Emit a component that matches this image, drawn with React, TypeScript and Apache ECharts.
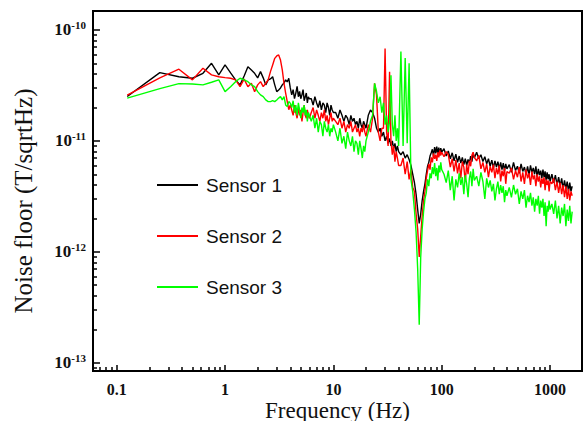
import { useEffect, useRef } from 'react';
import * as echarts from 'echarts';

// Frequency bins (Hz)
const FREQ_HZ = [
  0.125, 0.25, 0.375, 0.5, 0.625, 0.75, 0.875, 1, 1.125, 1.25, 1.375, 1.5, 1.625, 1.75, 1.875, 2,
  2.125, 2.25, 2.375, 2.5, 2.625, 2.75, 2.875, 3, 3.125, 3.25, 3.375, 3.5, 3.625, 3.75, 3.875, 4,
  4.125, 4.25, 4.375, 4.5, 4.625, 4.75, 4.875, 5, 5.125, 5.25, 5.375, 5.5, 5.625, 5.75, 5.875, 6,
  6.25, 6.5, 6.75, 7, 7.25, 7.5, 7.75, 8, 8.25, 8.5, 8.75, 9, 9.25, 9.5, 9.75, 10,
  10.5, 11, 11.5, 12, 12.5, 13, 13.5, 14, 14.5, 15, 15.5, 16, 16.5, 17, 17.5, 18, 18.5, 19, 19.5, 20,
  21, 22, 23, 24, 25, 26, 27, 28, 29, 30, 31, 32, 33, 34, 35, 36, 37, 38, 39, 40,
  42, 44, 46, 48, 50, 52, 54, 56, 58, 60, 62, 64, 66, 68, 70, 72, 74, 76, 78, 80, 82, 84, 86, 88, 90, 92, 94, 96, 98, 100,
  105, 110, 115, 120, 125, 130, 135, 140, 145, 150, 155, 160, 165, 170, 175, 180, 185, 190, 195, 200,
  210, 220, 230, 240, 250, 260, 270, 280, 290, 300, 310, 320, 330, 340, 350, 360, 370, 380, 390, 400,
  420, 440, 460, 480, 500, 520, 540, 560, 580, 600, 620, 640, 660, 680, 700, 720, 740, 760, 780, 800,
  820, 840, 860, 880, 900, 920, 940, 960, 980, 1000,
  1040, 1080, 1120, 1160, 1200, 1240, 1280, 1320, 1360, 1400, 1440, 1480, 1520, 1560, 1600,
];

// Noise floor values in pT/sqrtHz (1e-12 T/sqrtHz)
const SENSOR_1 = [
  25.1, 41.2, 37.9, 36.7, 40.7, 50.1, 39.4, 48.4, 41.0, 35.5, 32.0, 38.5, 46.7, 43.6, 40.7, 37.0,
  42.1, 37.0, 32.0, 35.5, 36.2, 37.9, 32.0, 27.8, 28.8, 30.0, 32.0, 33.3, 35.5, 34.0, 36.7, 30.0,
  26, 29, 24, 27, 31, 25, 28, 24, 26, 29, 23, 25, 27, 22, 25, 24,
  24, 21, 25, 22, 20, 23, 19, 22, 21, 18, 22, 20, 17, 21, 19, 18,
  18, 16, 19, 17, 15, 17, 16, 14, 17, 15, 16, 14, 15, 13, 16, 14, 13, 15, 14, 13,
  17, 19, 18, 16, 13, 12, 13, 11, 12, 10, 11, 9.5, 10.5, 9, 10, 8.5, 9.5, 8, 9, 8,
  7.5, 8, 7, 7.5, 6.8, 6.0, 5.0, 4.2, 3.3, 2.4, 1.8, 2.2, 2.9, 3.5, 4.1, 5.0, 5.9, 6.4, 7.3, 7.8,
  8.4, 7.3, 8.8, 7.7, 8.9, 7.6, 8.7, 7.4, 8.6, 7.9,
  8.5, 7.3, 8.1, 6.9, 7.8, 6.6, 7.6, 6.4, 7.3, 6.3, 7.1, 6.1, 6.9, 6.0, 6.8, 6.3, 7.3, 6.5, 7.8, 7.0,
  7.9, 6.9, 7.5, 6.5, 7.2, 6.2, 6.9, 5.9, 6.7, 5.7, 6.6, 5.8, 6.5, 5.6, 6.4, 5.5, 6.3, 5.4, 6.2, 5.6,
  6.1, 5.2, 6.4, 5.4, 5.9, 5.1, 6.2, 5.3, 5.8, 5.0, 5.9, 4.9, 6.0, 5.2, 5.7, 5.0, 5.9, 4.7, 5.6, 4.9,
  5.4, 4.6, 5.5, 4.7, 5.3, 4.4, 5.2, 4.5, 5.0, 4.3,
  5.0, 4.2, 4.9, 4.0, 4.7, 3.9, 4.6, 3.7, 4.4, 3.7, 4.3, 3.5, 4.2, 3.5, 3.9,
];

const SENSOR_2 = [
  25.9, 37.0, 44.3, 35.5, 45.2, 39.4, 37.9, 37.2, 36.7, 35.5, 30.8, 36.0, 30.8, 33.1, 27.8, 32.0,
  34.2, 30.8, 33.1, 35.5, 42.1, 48.4, 55.5, 58.3, 59.6, 53.6, 43.6, 33.1, 26.9, 22.6, 19.1, 21.1,
  19, 17, 21, 18, 16, 20, 17, 19, 15, 18, 21, 17, 16, 19, 17, 16,
  18, 20, 16, 19, 17, 15, 18, 16, 19, 15, 17, 14, 16, 18, 15, 16,
  15, 14, 16, 13, 15, 12, 14, 13, 15, 12, 13, 14, 12, 13, 11, 13, 12, 14, 12, 11,
  14, 12, 16, 33, 26, 12, 10, 13, 13, 68, 12, 9, 42, 10, 7.5, 9, 6.5, 8, 7, 6,
  6, 7, 5, 6.5, 4.5, 5.5, 3.8, 3.5, 2.2, 1.6, 0.9, 1.4, 2.1, 2.9, 3.5, 4.6, 5.4, 6.2, 5.5, 7.1,
  6.4, 7.7, 6.9, 7.5, 6.6, 7.9, 7.1, 8.2, 7.4, 7.9,
  7.2, 8.0, 7.5, 5.8, 6.9, 5.3, 6.7, 5.1, 6.3, 4.6, 6.5, 5.8, 4.3, 6.1, 5.0, 6.6, 5.9, 7.4, 7.9, 7.1,
  6.6, 7.4, 5.6, 6.4, 5.2, 6.2, 4.7, 5.9, 5.2, 6.1, 4.6, 5.7, 5.0, 6.0, 4.3, 5.4, 4.8, 5.7, 4.1, 5.3,
  5.1, 5.7, 4.5, 5.4, 4.7, 5.8, 4.3, 5.2, 4.1, 5.5, 4.6, 5.1, 4.0, 5.3, 4.5, 4.9, 3.9, 5.0, 4.3, 4.8,
  3.8, 4.6, 4.1, 4.7, 3.6, 4.5, 4.0, 4.4, 3.5, 4.3,
  4.1, 4.6, 3.6, 4.3, 3.4, 4.2, 3.3, 4.0, 3.1, 3.9, 3.0, 3.7, 2.9, 3.5, 3.2,
];

const SENSOR_3 = [
  24.3, 29.6, 32.8, 32.6, 32.0, 33.8, 35.5, 27.8, 30.8, 34.2, 36.7, 35.5, 34.2, 32.0, 30.8, 27.8,
  26.0, 25.1, 23.4, 22.6, 22.6, 23.1, 22.6, 23.4, 24.3, 25.1, 23.4, 25.1, 21.1, 20.4, 22.6, 21.9,
  20, 23, 18, 21, 17, 22, 19, 16, 20, 18, 21, 17, 19, 15, 18, 17,
  15, 17, 13, 16, 12, 15, 14, 11, 15, 13, 12, 14, 11, 13, 12, 14,
  12, 10, 13, 9.5, 11, 8.5, 12, 10, 9, 11, 8, 10, 9.5, 7.5, 10, 8.5, 7, 9, 8, 10,
  12, 15, 17, 33, 28, 22, 25, 18, 22, 14, 17, 12, 15, 39, 14, 11, 17, 10, 13, 9,
  64, 9, 56, 9.5, 50, 4.5, 3.5, 2.4, 1.5, 0.7, 0.22, 0.9, 1.6, 2.3, 3.0, 3.4, 4.5, 3.9, 5.1, 4.6,
  5.8, 5.0, 6.3, 4.8, 5.7, 4.4, 6.0, 5.2, 6.4, 5.5,
  5.0, 4.2, 5.4, 3.6, 4.8, 2.9, 4.5, 3.8, 5.1, 4.0, 4.7, 3.3, 4.9, 4.1, 3.1, 4.6, 5.3, 3.9, 5.6, 4.4,
  4.8, 3.9, 5.2, 4.3, 3.0, 4.6, 3.8, 4.4, 3.5, 4.1, 2.9, 3.7, 4.3, 3.3, 4.0, 3.4, 3.9, 2.8, 3.6, 3.2,
  3.8, 3.1, 4.0, 3.3, 3.7, 2.7, 3.5, 3.0, 3.6, 2.5, 3.2, 2.8, 3.4, 2.6, 3.1, 2.3, 3.0, 2.6, 3.2, 2.2,
  2.9, 2.5, 3.0, 2.1, 2.8, 1.7, 2.6, 2.3, 2.9, 2.4,
  2.7, 2.2, 2.9, 2.0, 2.6, 1.8, 2.5, 2.1, 2.7, 1.7, 2.4, 1.9, 2.6, 1.8, 2.3,
];

const VALUE_UNIT = 1e-12; // values above are in pT/sqrtHz
const SERIES_NAMES = ['Sensor 1', 'Sensor 2', 'Sensor 3'];
const SERIES_COLORS = ['#000000', '#ff0000', '#00ff00'];
const X_TICK_VALUES = [0.1, 1, 10, 100, 1000];
const X_TICK_LABELS = ['0.1', '1', '10', '100', '1000'];
const Y_TICK_EXPONENTS = [-13, -12, -11, -10];
const X_LIMITS = [0.0604, 1972];
const Y_LIMITS = [8.41e-14, 1.483e-10];

export default function App() {
  const ref = useRef<HTMLDivElement>(null);

  useEffect(() => {
    if (!ref.current) return;
    const chart = echarts.init(ref.current, null, { renderer: 'svg' });
    const lg = (v: number) => Math.log10(v);
    const xMin = lg(X_LIMITS[0]);
    const xMax = lg(X_LIMITS[1]);
    const yMin = lg(Y_LIMITS[0]);
    const yMax = lg(Y_LIMITS[1]);

    const minorTicks = (lo: number, hi: number) => {
      const out: number[] = [];
      for (let d = Math.floor(lo); d <= Math.ceil(hi); d++) {
        for (let k = 2; k <= 9; k++) {
          const v = d + Math.log10(k);
          if (v > lo && v < hi) out.push(v);
        }
      }
      return out;
    };

    const xMajor = X_TICK_VALUES.map(lg);
    const serif = 'Liberation Serif';
    const seriesData = [SENSOR_1, SENSOR_2, SENSOR_3];

    chart.setOption({
      animation: false,
      grid: {
        left: 93,
        right: 2,
        top: 11,
        bottom: 50,
        show: true,
        borderColor: '#000',
        borderWidth: 2,
        outerBoundsMode: 'none',
      },
      legend: {
        orient: 'vertical',
        left: 152,
        top: 170,
        itemWidth: 41,
        itemHeight: 2,
        itemGap: 31,
        icon: 'rect',
        data: SERIES_NAMES,
        textStyle: {
          fontFamily: 'Liberation Sans',
          fontSize: 19,
          color: '#111',
          lineHeight: 20,
          padding: [0, 0, 0, 3],
        },
      },
      xAxis: [
        {
          type: 'value',
          min: xMin,
          max: xMax,
          position: 'bottom',
          name: 'Frequency (Hz)',
          nameLocation: 'middle',
          nameGap: 28,
          nameMoveOverlap: false,
          nameTextStyle: { fontFamily: serif, fontSize: 23, color: '#111', lineHeight: 22 },
          axisLine: { show: true, onZero: false, lineStyle: { color: '#000', width: 2 } },
          axisTick: {
            show: true,
            inside: true,
            length: 6,
            customValues: xMajor,
            lineStyle: { color: '#000', width: 1.5 },
          },
          axisLabel: {
            customValues: xMajor,
            margin: 11,
            fontFamily: serif,
            fontWeight: 'bold',
            fontSize: 16,
            lineHeight: 14,
            color: '#111',
            formatter: (v: number) => {
              const i = xMajor.findIndex((t) => Math.abs(t - v) < 1e-6);
              return i >= 0 ? X_TICK_LABELS[i] : '';
            },
          },
          splitLine: { show: false },
        },
        {
          type: 'value',
          min: xMin,
          max: xMax,
          position: 'bottom',
          axisLine: { show: false, onZero: false },
          axisTick: {
            show: true,
            inside: true,
            length: 4,
            customValues: minorTicks(xMin, xMax),
            lineStyle: { color: '#000', width: 1.5 },
          },
          axisLabel: { show: false },
          splitLine: { show: false },
        },
      ],
      yAxis: [
        {
          type: 'value',
          min: yMin,
          max: yMax,
          position: 'left',
          name: 'Noise floor (T/sqrtHz)',
          nameLocation: 'middle',
          nameGap: 57,
          nameMoveOverlap: false,
          nameTextStyle: {
            fontFamily: serif,
            fontSize: 25,
            color: '#111',
            padding: [0, 20, 0, 0],
          },
          axisLine: { show: true, onZero: false, lineStyle: { color: '#000', width: 2 } },
          axisTick: {
            show: true,
            inside: true,
            length: 7,
            customValues: Y_TICK_EXPONENTS,
            lineStyle: { color: '#000', width: 1.5 },
          },
          axisLabel: {
            customValues: Y_TICK_EXPONENTS,
            margin: 7,
            formatter: (v: number) => `{b|10}{s|${Math.round(v)}}`,
            rich: {
              b: { fontFamily: serif, fontWeight: 'bold', fontSize: 17, color: '#111' },
              s: {
                fontFamily: serif,
                fontWeight: 'bold',
                fontSize: 11,
                color: '#111',
                verticalAlign: 'bottom',
                padding: [0, 0, 9, 0],
              },
            },
          },
          splitLine: { show: false },
        },
        {
          type: 'value',
          min: yMin,
          max: yMax,
          position: 'left',
          axisLine: { show: false, onZero: false },
          axisTick: {
            show: true,
            inside: true,
            length: 4,
            customValues: minorTicks(yMin, yMax),
            lineStyle: { color: '#000', width: 1.5 },
          },
          axisLabel: { show: false },
          splitLine: { show: false },
        },
      ],
      series: SERIES_NAMES.map((name, s) => ({
        name,
        type: 'line',
        xAxisIndex: 0,
        yAxisIndex: 0,
        showSymbol: false,
        symbol: 'none',
        color: SERIES_COLORS[s],
        lineStyle: { color: SERIES_COLORS[s], width: 1.4 },
        emphasis: { disabled: true },
        data: FREQ_HZ.map((f, i) => [lg(f), lg(seriesData[s][i] * VALUE_UNIT)]),
      })),
    });

    return () => {
      chart.dispose();
    };
  }, []);

  return (
    <div
      ref={ref}
      style={{ position: 'absolute', left: 0, top: 0, width: 584, height: 421 }}
    />
  );
}
